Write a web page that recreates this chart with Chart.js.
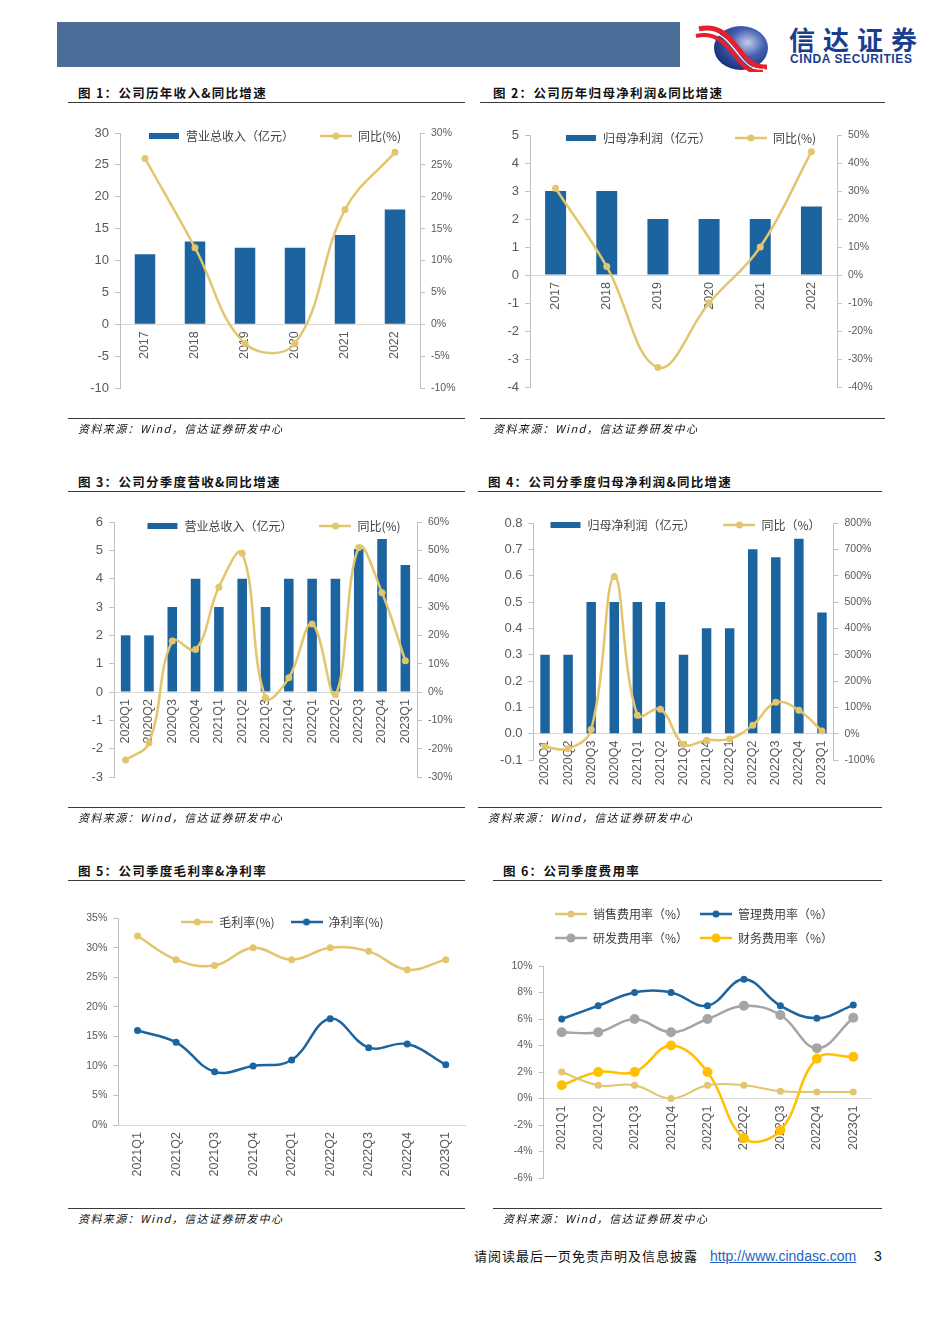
<!DOCTYPE html>
<html>
<head>
<meta charset="utf-8">
<script src="https://cdn.jsdelivr.net/npm/chart.js@4.4.0/dist/chart.umd.min.js"></script>
<style>
body { margin: 0; background: #fff; }
#page { position: relative; width: 950px; height: 1344px; overflow: hidden; font-family: "Noto Sans CJK SC", sans-serif; }
.box { position: absolute; }
.title { position: absolute; height: 18px; line-height: 18px; font-size: 12.5px; font-weight: bold; letter-spacing: 1.3px; color: #111; border-bottom: 1.5px solid #3a3a3a; box-sizing: content-box; }
.src { position: absolute; height: 18px; line-height: 18px; font-size: 11px; font-style: italic; letter-spacing: 1.4px; color: #111; border-top: 1.5px solid #3a3a3a; }
</style>
</head>
<body>
<div id="page">
  <div class="box" style="left:57px;top:22px;width:623px;height:45px;background:#4a6e98;"></div>
  <svg class="box" style="left:693px;top:22px;" width="82" height="50" viewBox="0 0 82 50">
    <defs>
      <radialGradient id="lg" cx="62%" cy="38%" r="70%">
        <stop offset="0" stop-color="#c4cdee"/>
        <stop offset="0.45" stop-color="#4560b0"/>
        <stop offset="1" stop-color="#132a76"/>
      </radialGradient>
    </defs>
    <ellipse cx="48" cy="26" rx="27" ry="22" fill="url(#lg)"/>
    <path d="M6 7 C 28 2, 38 18, 47 29 S 62 46, 74 45" stroke="#e3202b" stroke-width="5" fill="none"/>
    <path d="M3 14 C 25 9, 35 25, 44 36 S 58 51, 70 49" stroke="#e3202b" stroke-width="4" fill="none"/>
    <path d="M5 10.5 C 27 5.5, 37 21.5, 45.5 32.5 S 60 48.5, 72 47" stroke="#fff" stroke-width="1.2" fill="none"/>
  </svg>
  <div class="box" style="left:789px;top:24px;font-size:26px;font-weight:bold;letter-spacing:8px;color:#1b3d8f;line-height:30px;">信达证券</div>
  <div class="box" style="left:790px;top:53px;font-family:'Liberation Sans';font-size:12px;font-weight:bold;letter-spacing:0.6px;color:#1b3d8f;line-height:13px;">CINDA SECURITIES</div>

  <div class="title" style="left:68px;top:84px;width:387px;padding-left:10px;">图 1：公司历年收入&amp;同比增速</div>
  <div class="title" style="left:480px;top:84px;width:392px;padding-left:13px;">图 2：公司历年归母净利润&amp;同比增速</div>
  <div class="title" style="left:68px;top:473px;width:387px;padding-left:10px;">图 3：公司分季度营收&amp;同比增速</div>
  <div class="title" style="left:478px;top:473px;width:394px;padding-left:10px;">图 4：公司分季度归母净利润&amp;同比增速</div>
  <div class="title" style="left:68px;top:862px;width:387px;padding-left:10px;">图 5：公司季度毛利率&amp;净利率</div>
  <div class="title" style="left:493px;top:862px;width:379px;padding-left:10px;">图 6：公司季度费用率</div>

  <div class="box" style="left:70px;top:104px;width:409px;height:344px;"><canvas id="chart1"></canvas></div>
  <div class="box" style="left:480px;top:108px;width:421px;height:339px;"><canvas id="chart2"></canvas></div>
  <div class="box" style="left:64px;top:493px;width:419px;height:344px;"><canvas id="chart3"></canvas></div>
  <div class="box" style="left:478px;top:491px;width:414px;height:329px;"><canvas id="chart4"></canvas></div>
  <div class="box" style="left:70px;top:900px;width:425px;height:285px;"><canvas id="chart5"></canvas></div>
  <div class="box" style="left:500px;top:896px;width:388px;height:342px;"><canvas id="chart6"></canvas></div>

  <div class="src" style="left:68px;top:418px;width:387px;padding-left:10px;">资料来源：Wind，信达证券研发中心</div>
  <div class="src" style="left:480px;top:418px;width:392px;padding-left:13px;">资料来源：Wind，信达证券研发中心</div>
  <div class="src" style="left:68px;top:807px;width:387px;padding-left:10px;">资料来源：Wind，信达证券研发中心</div>
  <div class="src" style="left:478px;top:807px;width:394px;padding-left:10px;">资料来源：Wind，信达证券研发中心</div>
  <div class="src" style="left:68px;top:1208px;width:387px;padding-left:10px;">资料来源：Wind，信达证券研发中心</div>
  <div class="src" style="left:493px;top:1208px;width:379px;padding-left:10px;">资料来源：Wind，信达证券研发中心</div>

  <div class="box" style="left:474px;top:1247px;font-size:13px;letter-spacing:1px;line-height:18px;color:#111;">请阅读最后一页免责声明及信息披露</div>
  <div class="box" style="left:710px;top:1247px;font-family:'Liberation Sans';font-size:14px;line-height:18px;color:#1f5fbf;text-decoration:underline;">http://www.cindasc.com</div>
  <div class="box" style="left:874px;top:1247px;font-family:'Liberation Sans';font-size:14px;line-height:18px;color:#111;">3</div>
</div>

<script>
// ---- data ----
var years = ["2017", "2018", "2019", "2020", "2021", "2022"];
var revenueYear = [11, 13, 12, 12, 14, 18];
var revenueYearYoy = [26, 12, -3, -3, 18, 27];
var profitYear = [3, 3, 2, 2, 2, 2.45];
var profitYearYoy = [31, 3, -33, -10, 10, 44];

var quarters13 = ["2020Q1", "2020Q2", "2020Q3", "2020Q4", "2021Q1", "2021Q2", "2021Q3", "2021Q4", "2022Q1", "2022Q2", "2022Q3", "2022Q4", "2023Q1"];
var revenueQ = [2, 2, 3, 4, 3, 4, 3, 4, 4, 4, 5.05, 5.4, 4.48];
var revenueQYoy = [-24, -18, 18, 15, 37, 49, -2, 5, 24, -1, 51, 35, 11];
var profitQ = [0.3, 0.3, 0.5, 0.5, 0.5, 0.5, 0.3, 0.4, 0.4, 0.7, 0.67, 0.74, 0.46];
var profitQYoy = [-50, -57, 16, 597, 70, 93, -40, -25, -20, 32, 119, 89, 10];

var quarters9 = ["2021Q1", "2021Q2", "2021Q3", "2021Q4", "2022Q1", "2022Q2", "2022Q3", "2022Q4", "2023Q1"];
var grossMargin = [32, 28, 27, 30, 28, 30, 29.4, 26.3, 28];
var netMargin = [16, 14, 9, 10, 11, 18, 13.1, 13.7, 10.2];
var salesRate = [2, 1, 1, 0, 1, 1, 0.55, 0.5, 0.5];
var adminRate = [6, 7, 8, 8, 7, 9, 7, 6.05, 7.05];
var rdRate = [5, 5, 6, 5, 6, 7, 6.3, 3.8, 6.1];
var financeRate = [1, 2, 2, 4, 2, -3, -2.4, 3, 3.15];

// ---- styles ----
var BLUE = "#1c64a0";
var GOLD = "#e2c56c";
var GRAY = "#a5a5a5";
var YELLOW = "#ffc000";
var AXIS = "#bfbfbf";
var TICK = "#595959";

function legendLine(color, r) {
    var c = document.createElement("canvas");
    c.width = 32; c.height = 12;
    var g = c.getContext("2d");
    g.strokeStyle = color; g.lineWidth = 2.5;
    g.beginPath(); g.moveTo(0, 6); g.lineTo(32, 6); g.stroke();
    g.fillStyle = color;
    g.beginPath(); g.arc(16, 6, r, 0, Math.PI * 2); g.fill();
    return c;
}
function legendBar(color) {
    var c = document.createElement("canvas");
    c.width = 32; c.height = 12;
    var g = c.getContext("2d");
    g.fillStyle = color;
    g.fillRect(1, 3, 30, 6);
    return c;
}

function legendOpts(pad) {
    return {
        position: "top",
        labels: {
            usePointStyle: true,
            pointStyleWidth: 32,
            padding: pad,
            color: "#404040",
            font: { family: "Noto Sans CJK SC", size: 12 },
            generateLabels: function (chart) {
                return chart.data.datasets.map(function (ds, i) {
                    return { text: ds.label, pointStyle: ds.legendImg, fillStyle: "rgba(0,0,0,0)",
                             strokeStyle: "rgba(0,0,0,0)", lineWidth: 0, hidden: false, datasetIndex: i, fontColor: "#404040" };
                });
            }
        }
    };
}

// legend sits over the plot: its box only reserves h pixels,
// then gets its full height back so it is not clipped when drawn
function legendHeight(h) {
    return {
        id: "legendHeight",
        beforeLayout: function (chart) {
            var lg = chart.legend;
            if (lg && !lg._patched) {
                var fit = lg.fit;
                lg.fit = function () { fit.call(this); this.height = h; };
                lg._patched = true;
            }
        },
        afterLayout: function (chart) {
            var lg = chart.legend;
            if (lg) { lg.height = 90; lg.bottom = lg.top + 90; }
        }
    };
}

function width(w) { return function (scale) { scale.width = w; }; }

function xAxis() {
    return {
        type: "category",
        position: { y: 0 },
        offset: true,
        grid: { display: false, drawTicks: false },
        border: { display: true, color: "#d9d9d9", width: 1 },
        ticks: { autoSkip: false, minRotation: 90, maxRotation: 90, padding: 7, color: TICK,
                 font: { family: "Liberation Sans", size: 12.5 } }
    };
}
function yAxis(min, max, step, w, fmt, side, size) {
    return {
        position: side,
        min: min, max: max,
        afterFit: width(w),
        grid: { display: true, drawOnChartArea: false, drawTicks: true, tickLength: 5, color: AXIS },
        border: { display: true, color: AXIS, width: 1 },
        ticks: { stepSize: step, padding: 6, color: TICK, font: { family: "Liberation Sans", size: size },
                 callback: fmt }
    };
}
function dummyAxis(w) {
    return { position: "right", display: true, afterFit: width(w),
             grid: { display: false }, border: { display: false }, ticks: { display: false } };
}
function plain(v) { return v; }
function pct(v) { return v + "%"; }
function dec1(v) { return v.toFixed(1); }

function barSet(label, data) {
    return { type: "bar", label: label, data: data, backgroundColor: BLUE, yAxisID: "y", order: 1,
             categoryPercentage: 1, barPercentage: 0.41, legendImg: legendBar(BLUE) };
}
function lineSet(label, data, color, r, axis, w) {
    return { type: "line", label: label, data: data, borderColor: color, backgroundColor: color,
             pointBackgroundColor: color, pointBorderWidth: 0, pointRadius: r, borderWidth: w || 2.5,
             tension: 0.4, yAxisID: axis, order: 0, legendImg: legendLine(color, Math.min(r, 4.5)) };
}

var PAD = { top: 0, bottom: 60, left: 0, right: 0 };

function comboChart(id, labels, bars, barLabel, yoy, yoyLabel, left, right, legPad, legH) {
    new Chart(document.getElementById(id), {
        data: {
            labels: labels,
            datasets: [barSet(barLabel, bars), lineSet(yoyLabel, yoy, GOLD, 3.5, "y1")]
        },
        options: {
            responsive: true,
            maintainAspectRatio: false,
            animation: false,
            layout: { padding: PAD },
            plugins: { legend: legendOpts(legPad), tooltip: { enabled: false } },
            scales: { x: xAxis(), y: left, y1: right }
        },
        plugins: [legendHeight(legH)]
    });
}

comboChart("chart1", years, revenueYear, "营业总收入（亿元）", revenueYearYoy, "同比(%)",
    yAxis(-10, 30, 5, 50, plain, "left", 13), yAxis(-10, 30, 5, 59, pct, "right", 10.5), 26, 29);
comboChart("chart2", years, profitYear, "归母净利润（亿元）", profitYearYoy, "同比(%)",
    yAxis(-4, 5, 1, 50, plain, "left", 13), yAxis(-40, 50, 10, 64, pct, "right", 10.5), 24, 27);
comboChart("chart3", quarters13, revenueQ, "营业总收入（亿元）", revenueQYoy, "同比(%)",
    yAxis(-3, 6, 1, 50, plain, "left", 13), yAxis(-30, 60, 10, 66, pct, "right", 10.5), 27, 29);
comboChart("chart4", quarters13, profitQ, "归母净利润（亿元）", profitQYoy, "同比（%）",
    yAxis(-0.1, 0.8, 0.1, 55.5, dec1, "left", 13), yAxis(-100, 800, 100, 58.5, pct, "right", 10.5), 28, 32);

new Chart(document.getElementById("chart5"), {
    type: "line",
    data: {
        labels: quarters9,
        datasets: [
            lineSet("毛利率(%)", grossMargin, GOLD, 3.5, "y"),
            lineSet("净利率(%)", netMargin, BLUE, 3.5, "y")
        ]
    },
    options: {
        responsive: true,
        maintainAspectRatio: false,
        animation: false,
        layout: { padding: PAD },
        plugins: { legend: legendOpts(16), tooltip: { enabled: false } },
        scales: { x: xAxis(), y: yAxis(0, 35, 5, 48.3, pct, "left", 10.5), y1: dummyAxis(30) }
    },
    plugins: [legendHeight(18.3)]
});

new Chart(document.getElementById("chart6"), {
    type: "line",
    data: {
        labels: quarters9,
        datasets: [
            lineSet("销售费用率（%）", salesRate, GOLD, 3.5, "y", 2),
            lineSet("管理费用率（%）", adminRate, BLUE, 3.5, "y"),
            lineSet("研发费用率（%）", rdRate, GRAY, 5, "y"),
            lineSet("财务费用率（%）", financeRate, YELLOW, 5, "y")
        ]
    },
    options: {
        responsive: true,
        maintainAspectRatio: false,
        animation: false,
        layout: { padding: PAD },
        plugins: { legend: legendOpts(12), tooltip: { enabled: false } },
        scales: { x: xAxis(), y: yAxis(-6, 10, 2, 43.5, pct, "left", 10.5), y1: dummyAxis(16.5) }
    },
    plugins: [legendHeight(70)]
});
</script>
</body>
</html>
